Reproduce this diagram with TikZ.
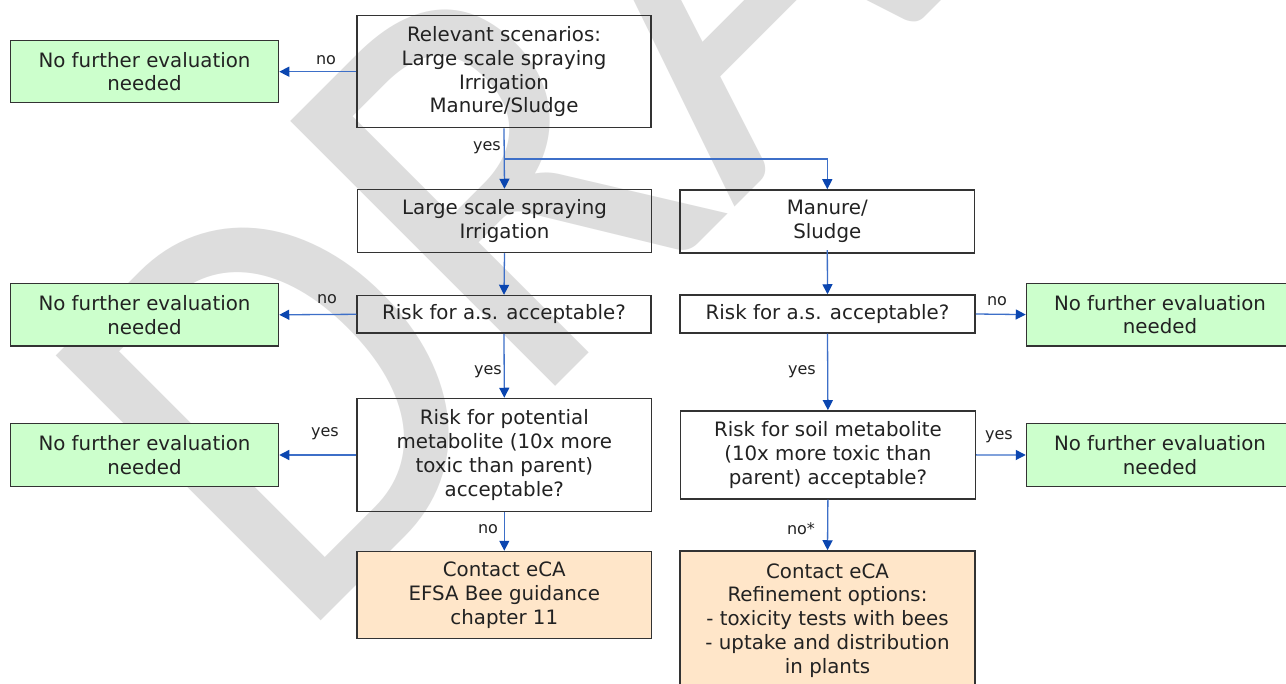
\documentclass[tikz,border=0pt]{standalone}
\usepackage{fontspec}
\setmainfont{DejaVu Sans}
\newfontfamily\wmfont{Carlito}
\usetikzlibrary{arrows.meta}
\definecolor{boxline}{HTML}{333333}
\definecolor{okgreen}{HTML}{CCFFCC}
\definecolor{peach}{HTML}{FFE6C9}
\definecolor{flowline}{HTML}{3D6FC8}
\definecolor{flowhead}{HTML}{0B46B0}
\definecolor{watermark}{HTML}{DDDDDD}
\definecolor{ink}{HTML}{222222}

\begin{document}
\begin{tikzpicture}[x=1pt,y=-1pt,
  box/.style={draw=boxline, line width=1.5pt, text=ink, inner sep=0pt,
    align=center, font=\fontsize{19.8}{23.8}\selectfont},
  okbox/.style={box, fill=okgreen, minimum width=268pt},
  ecabox/.style={box, fill=peach},
  flow/.style={draw=flowline, line width=1.3pt,
    -{Triangle[length=10pt,width=10pt,color=flowhead]}},
  lbl/.style={text=ink, inner sep=0pt, font=\fontsize{16}{19}\selectfont},
]
\useasboundingbox (0,0) rectangle (1286,684);
\clip (0,0) rectangle (1286,684);
\fill[white] (0,0) rectangle (1286,684);

% watermark behind the chart
\node[anchor=base west, rotate=45, xscale=0.915, inner sep=0pt, text=watermark,
  font=\wmfont\fontsize{584}{584}\selectfont] (wm) at (295.5,646.5) {DRAFT};

% boxes
\node[box, minimum width=294pt, minimum height=112pt] (rel) at (504,71.7)
  {Relevant scenarios:\\Large scale spraying\\Irrigation\\Manure/Sludge};
\node[okbox, minimum height=62pt] (g1) at (144.5,71.7) {No further evaluation\\needed};

\node[box, minimum width=294pt, minimum height=63pt] (lss) at (504.5,221)
  {Large scale spraying\\Irrigation};
\node[box, minimum width=294.5pt, minimum height=63pt] (man) at (827.3,221.5)
  {Manure/\\Sludge};

\node[box, minimum width=294pt, minimum height=37.5pt] (asl) at (504,314.3)
  {Risk for a.s. acceptable?};
\node[box, minimum width=295pt, minimum height=38pt] (asr) at (827.5,314)
  {Risk for a.s. acceptable?};
\node[okbox, minimum height=62.5pt] (g2) at (144.5,314.8) {No further evaluation\\needed};
\node[okbox, minimum width=267pt, minimum height=62.5pt] (g2r) at (1160,314.6)
  {No further evaluation\\needed};

\node[box, minimum width=294.5pt, minimum height=113pt] (pot) at (504.3,455)
  {Risk for potential\\metabolite (10x more\\toxic than parent)\\acceptable?};
\node[box, minimum width=295pt, minimum height=88pt] (soil) at (827.9,454.9)
  {Risk for soil metabolite\\(10x more toxic than\\parent) acceptable?};
\node[okbox, minimum height=63.4pt] (g3) at (144.5,455) {No further evaluation\\needed};
\node[okbox, minimum width=267pt, minimum height=63.4pt] (g3r) at (1160,455)
  {No further evaluation\\needed};

\node[ecabox, minimum width=294.5pt, minimum height=87pt] (ecal) at (504.3,595)
  {Contact eCA\\EFSA Bee guidance\\chapter 11};
\node[ecabox, minimum width=295pt, minimum height=139pt] (ecar) at (827.5,620.5)
  {Contact eCA\\Refinement options:\\- toxicity tests with bees\\- uptake and distribution\\in plants};

% connectors
\coordinate (split) at (504,159);
\draw[flow] (rel.south) -- (lss.north);
\draw[flow] (split) -| (man.north);
\draw[flow] (rel.west) -- (g1.east);
\draw[flow] (lss.south) -- (asl.north);
\draw[flow] ([yshift=3.5pt]man.south) -- (asr.north);
\draw[flow] (asl.west) -- (g2.east);
\draw[flow] (asr.east) -- (g2r.west);
\draw[flow] (asl.south) -- (pot.north);
\draw[flow] (asr.south) -- (soil.north);
\draw[flow] (pot.west) -- (g3.east);
\draw[flow] (soil.east) -- (g3r.west);
\draw[flow] (pot.south) -- (ecal.north);
\draw[flow] (soil.south) -- (ecar.north);

% connector labels
\node[lbl] (l1) at (326,60) {no};
\node[lbl] (l2) at (487,148) {yes};
\node[lbl] (l3) at (327,299) {no};
\node[lbl] (l4) at (997,301) {no};
\node[lbl] (l5) at (488,372) {yes};
\node[lbl] (l6) at (802,372) {yes};
\node[lbl] (l7) at (325,434) {yes};
\node[lbl] (l8) at (999,437) {yes};
\node[lbl] (l9) at (488,529) {no};
\node[lbl] (l10) at (801,529) {no*};
\end{tikzpicture}
\end{document}
